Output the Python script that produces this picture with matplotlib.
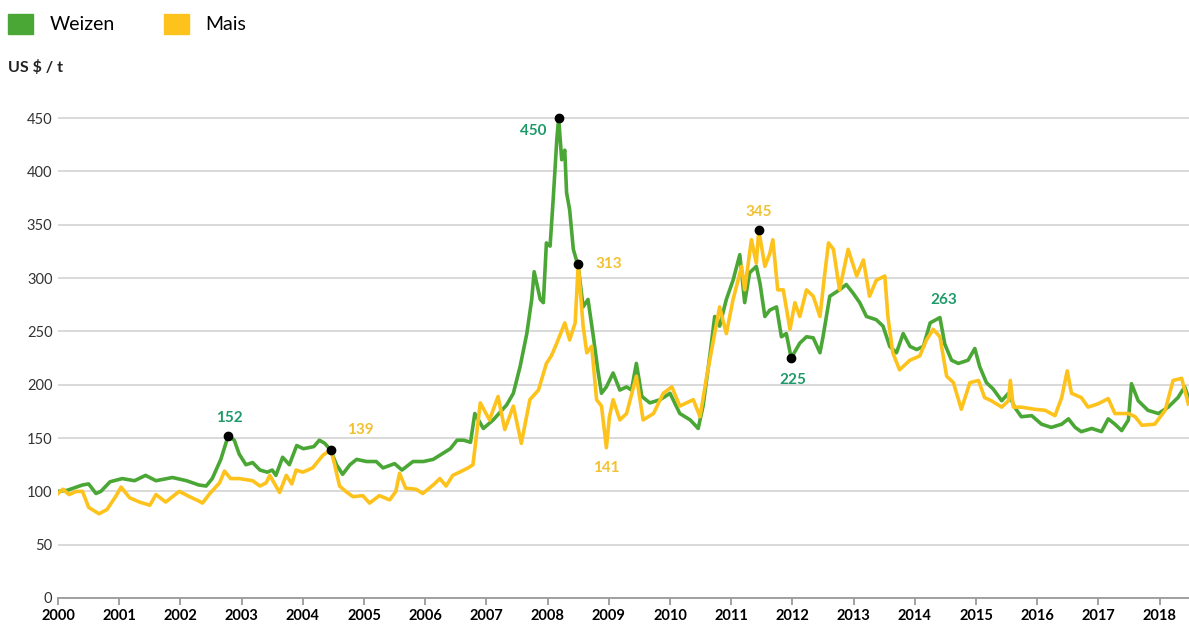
import matplotlib.pyplot as plt
from matplotlib.patches import Patch

# Weizen (wheat), US $ / t
weizen_t = [2000.00, 2000.15, 2000.30, 2000.40, 2000.50, 2000.62, 2000.70, 2000.85, 2001.05, 2001.25,
            2001.43, 2001.60, 2001.87, 2002.10, 2002.30, 2002.42, 2002.52, 2002.66, 2002.78, 2002.88,
            2002.96, 2003.07, 2003.18, 2003.30, 2003.42, 2003.50, 2003.56, 2003.67, 2003.78, 2003.90,
            2004.01, 2004.18, 2004.27, 2004.36, 2004.45, 2004.55, 2004.65, 2004.77, 2004.88, 2005.04,
            2005.20, 2005.31, 2005.50, 2005.62, 2005.80, 2005.97, 2006.13, 2006.30, 2006.41, 2006.52,
            2006.63, 2006.74, 2006.81, 2006.95, 2007.11, 2007.33, 2007.44, 2007.55, 2007.66, 2007.74,
            2007.78, 2007.88, 2007.93, 2007.98, 2008.04, 2008.09, 2008.15, 2008.18, 2008.23, 2008.28,
            2008.31, 2008.36, 2008.42, 2008.50, 2008.58, 2008.66, 2008.74, 2008.82, 2008.88, 2008.96,
            2009.07, 2009.18, 2009.29, 2009.37, 2009.45, 2009.54, 2009.67, 2009.84, 2010.00, 2010.16,
            2010.33, 2010.46, 2010.54, 2010.65, 2010.73, 2010.81, 2010.92, 2011.03, 2011.14, 2011.22,
            2011.30, 2011.41, 2011.47, 2011.55, 2011.63, 2011.74, 2011.82, 2011.90, 2011.98, 2012.12,
            2012.23, 2012.34, 2012.45, 2012.50, 2012.61, 2012.77, 2012.88, 2012.99, 2013.10, 2013.21,
            2013.37, 2013.48, 2013.59, 2013.70, 2013.81, 2013.92, 2014.03, 2014.14, 2014.25, 2014.41,
            2014.49, 2014.60, 2014.71, 2014.87, 2014.98, 2015.06, 2015.17, 2015.28, 2015.42, 2015.53,
            2015.63, 2015.74, 2015.91, 2016.07, 2016.23, 2016.40, 2016.51, 2016.62, 2016.72, 2016.89,
            2017.05, 2017.16, 2017.27, 2017.38, 2017.49, 2017.54, 2017.65, 2017.81, 2017.98, 2018.14,
            2018.30, 2018.41, 2018.47]
weizen_v = [100, 101, 104, 106, 107, 98, 100, 109, 112, 110,
            115, 110, 113, 110, 106, 105, 112, 130, 152, 148,
            135, 125, 127, 120, 118, 120, 115, 132, 125, 143,
            140, 142, 148, 145, 139, 125, 116, 125, 130, 128,
            128, 122, 126, 120, 128, 128, 130, 136, 140, 148,
            148, 146, 173, 159, 167, 181, 192, 217, 248, 280,
            306, 280, 277, 333, 330, 373, 430, 450, 411, 420,
            380, 364, 327, 311, 273, 280, 248, 214, 192, 198,
            211, 195, 198, 195, 220, 189, 183, 186, 192, 173,
            167, 159, 180, 227, 264, 255, 280, 298, 322, 277,
            305, 311, 295, 264, 270, 273, 245, 248, 225, 239,
            245, 244, 230, 245, 283, 289, 294, 286, 277, 264,
            261, 255, 236, 230, 248, 236, 233, 236, 258, 263,
            238, 223, 220, 223, 234, 217, 202, 196, 185, 192,
            179, 170, 171, 163, 160, 163, 168, 160, 156, 159,
            156, 168, 163, 157, 167, 201, 185, 176, 173, 179,
            188, 198, 188]

# Mais (maize), US $ / t
mais_t = [2000.00, 2000.08, 2000.18, 2000.30, 2000.40, 2000.50, 2000.67, 2000.80, 2000.94, 2001.03,
          2001.17, 2001.33, 2001.50, 2001.60, 2001.76, 2001.98, 2002.15, 2002.30, 2002.36, 2002.48,
          2002.64, 2002.72, 2002.82, 2002.96, 2003.18, 2003.30, 2003.40, 2003.46, 2003.62, 2003.73,
          2003.82, 2003.89, 2004.00, 2004.16, 2004.33, 2004.46, 2004.52, 2004.60, 2004.70, 2004.82,
          2004.98, 2005.09, 2005.25, 2005.42, 2005.52, 2005.58, 2005.68, 2005.85, 2005.96, 2006.13,
          2006.24, 2006.34, 2006.45, 2006.56, 2006.70, 2006.78, 2006.90, 2007.05, 2007.19, 2007.30,
          2007.44, 2007.57, 2007.71, 2007.85, 2007.98, 2008.06, 2008.15, 2008.28, 2008.36, 2008.45,
          2008.50, 2008.58, 2008.64, 2008.72, 2008.80, 2008.88, 2008.96, 2009.01, 2009.07, 2009.18,
          2009.29, 2009.45, 2009.56, 2009.73, 2009.89, 2010.03, 2010.16, 2010.38, 2010.49, 2010.60,
          2010.71, 2010.81, 2010.92, 2011.03, 2011.17, 2011.22, 2011.33, 2011.41, 2011.45, 2011.55,
          2011.63, 2011.68, 2011.76, 2011.85, 2011.96, 2012.04, 2012.12, 2012.23, 2012.34, 2012.45,
          2012.53, 2012.59, 2012.67, 2012.77, 2012.91, 2013.05, 2013.16, 2013.26, 2013.37, 2013.51,
          2013.56, 2013.64, 2013.75, 2013.92, 2014.08, 2014.19, 2014.30, 2014.41, 2014.52, 2014.63,
          2014.76, 2014.90, 2015.04, 2015.14, 2015.25, 2015.42, 2015.53, 2015.56, 2015.61, 2015.74,
          2015.96, 2016.13, 2016.29, 2016.40, 2016.49, 2016.56, 2016.72, 2016.83, 2016.99, 2017.16,
          2017.27, 2017.49, 2017.60, 2017.71, 2017.92, 2018.09, 2018.22, 2018.36, 2018.47]
mais_v = [98, 102, 97, 100, 100, 85, 79, 83, 95, 104,
          94, 90, 87, 97, 90, 100, 95, 91, 89, 98,
          108, 119, 112, 112, 110, 105, 108, 115, 99, 115,
          107, 120, 118, 122, 134, 139, 125, 105, 100, 95,
          96, 89, 96, 92, 100, 117, 103, 102, 98, 106,
          112, 105, 115, 118, 122, 125, 183, 167, 189, 158,
          180, 145, 186, 195, 220, 227, 239, 258, 242, 258,
          313, 255, 230, 236, 186, 180, 141, 170, 186, 167,
          173, 208, 167, 173, 192, 198, 180, 186, 170, 208,
          242, 273, 248, 280, 311, 289, 336, 314, 345, 311,
          323, 336, 289, 289, 252, 277, 264, 289, 283, 264,
          305, 333, 327, 289, 327, 302, 317, 283, 298, 302,
          264, 230, 214, 223, 227, 242, 252, 245, 208, 202,
          177, 202, 204, 188, 185, 179, 185, 204, 179, 179,
          177, 176, 171, 188, 213, 192, 188, 179, 182, 187,
          173, 173, 170, 162, 163, 176, 204, 206, 182]

weizen_marks = [152, 450, 225]
mais_marks = [139, 313, 345]
weizen_labels = [152, 450, 225, 263]
mais_labels = [139, 313, 141, 345]

GREEN = "#4ba735"
GREEN_TXT = "#1f9b6a"
YELLOW = "#fdc31c"
YELLOW_TXT = "#f2c132"

plt.rcParams["font.family"] = ["Lato", "DejaVu Sans"]

fig = plt.figure(figsize=(11.89, 6.30), dpi=100)
ax = fig.add_axes([0.0488, 0.0508, 0.9512, 0.787])

ax.plot(weizen_t, weizen_v, color=GREEN, lw=2.6, solid_joinstyle="round", zorder=3)
ax.plot(mais_t, mais_v, color=YELLOW, lw=2.6, solid_joinstyle="round", zorder=4)

# black dots on the highlighted extremes
for v in weizen_marks:
    i = weizen_v.index(v)
    ax.plot(weizen_t[i], v, "o", color="black", ms=6, zorder=6)
for v in mais_marks:
    i = mais_v.index(v)
    ax.plot(mais_t[i], v, "o", color="black", ms=6, zorder=6)

w_off = {152: (1, 13), 450: (-18, -9), 225: (1, -16), 263: (3, 13)}
m_off = {139: (21, 14), 313: (22, 0), 141: (0, -15), 345: (0, 13)}
for v in weizen_labels:
    i = weizen_v.index(v)
    ax.annotate(str(v), (weizen_t[i], v), xytext=w_off[v], textcoords="offset points",
                ha="center", va="center", color=GREEN_TXT, fontsize=11, fontweight="bold", zorder=7)
for v in mais_labels:
    i = mais_v.index(v)
    ax.annotate(str(v), (mais_t[i], v), xytext=m_off[v], textcoords="offset points",
                ha="center", va="center", color=YELLOW_TXT, fontsize=11, fontweight="bold", zorder=7)

ax.set_xlim(2000, 2018.48)
ax.set_ylim(0, 465)
ax.set_yticks(range(0, 451, 50))
ax.set_xticks(range(2000, 2019))
ax.set_xticklabels([str(y) for y in range(2000, 2019)], fontweight="bold", fontsize=10.5)
for lab in ax.get_yticklabels():
    lab.set_fontsize(10.5)
    lab.set_color("#333333")

ax.grid(axis="y", color="#cfcfcf", lw=1.1)
ax.set_axisbelow(True)
for s in ["top", "right", "left"]:
    ax.spines[s].set_visible(False)
ax.spines["bottom"].set_color("#9a9a9a")
ax.spines["bottom"].set_linewidth(1.3)
ax.tick_params(axis="y", length=0, pad=4)
ax.tick_params(axis="x", length=5, color="#9a9a9a", width=1.3, pad=3)

fig.text(0.007, 0.893, "US $ / t", fontsize=11.5, fontweight="bold", color="#222222", va="center")

handles = [Patch(color=GREEN), Patch(color=YELLOW)]
fig.legend(handles, ["Weizen", "Mais"], loc="center left", bbox_to_anchor=(0.0067, 0.962), ncol=2,
           frameon=False, fontsize=14, handlelength=1.3, handleheight=1.25, borderpad=0,
           borderaxespad=0, handletextpad=0.85, columnspacing=2.5)

fig.savefig("out.png", dpi=100, facecolor="white")
